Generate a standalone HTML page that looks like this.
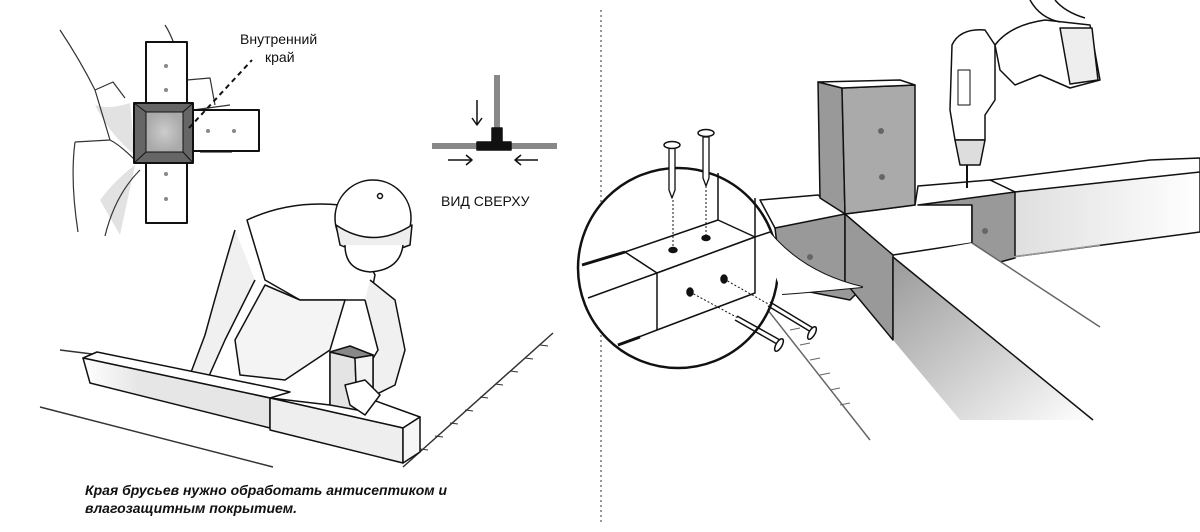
<!DOCTYPE html>
<html><head><meta charset="utf-8"><style>
html,body{margin:0;padding:0;background:#fff;width:1200px;height:532px;overflow:hidden}
svg{display:block}
text{font-family:"Liberation Sans","DejaVu Sans",sans-serif;fill:#111}
</style></head><body>
<svg width="1200" height="532" viewBox="0 0 1200 532" xmlns="http://www.w3.org/2000/svg">
<defs>
<linearGradient id="g1" x1="0" y1="0" x2="1" y2="1"><stop offset="0" stop-color="#999"/><stop offset="1" stop-color="#fff"/></linearGradient>
<linearGradient id="g2" x1="0" y1="0" x2="1" y2="0"><stop offset="0" stop-color="#ddd"/><stop offset="1" stop-color="#fff"/></linearGradient>
<linearGradient id="g3" x1="0" y1="0" x2="1" y2="0"><stop offset="0" stop-color="#fff"/><stop offset="0.3" stop-color="#e6e6e6"/></linearGradient>
<radialGradient id="g4"><stop offset="0" stop-color="#ccc"/><stop offset="1" stop-color="#aaa"/></radialGradient>
</defs>
<g stroke="#111" stroke-width="1.5" fill="none" stroke-linejoin="round">
<line x1="601" y1="10" x2="601" y2="525" stroke-dasharray="2 3" stroke="#777"/>
<path d="M95 105 Q110 135 135 155 L130 103 Q110 110 95 105 Z" fill="#e2e2e2" stroke="none"/>
<path d="M100 200 Q115 180 135 165 L120 235 Z" fill="#e2e2e2" stroke="none"/>
<g stroke="#333" stroke-width="1.2">
<path d="M60 30 Q80 60 95 90 L110 140 L75 142 M75 142 Q70 180 78 232"/>
<path d="M95 90 L113 82 L125 98 M110 140 Q120 145 135 160"/>
<path d="M140 170 Q115 195 105 236 M165 25 Q175 40 185 80"/>
<path d="M187 80 L210 78 L215 105 M193 110 L230 105"/>
<path d="M200 152 L232 152"/>
</g>
<rect x="146" y="42" width="41" height="61" fill="#fff" stroke-width="2"/>
<rect x="146" y="163" width="41" height="60" fill="#fff" stroke-width="2"/>
<rect x="193" y="110" width="66" height="41" fill="#fff" stroke-width="2"/>
<rect x="134" y="103" width="59" height="60" fill="#666" stroke-width="2"/>
<rect x="146" y="112" width="37" height="40" fill="url(#g4)" stroke-width="1"/>
<path d="M134 103 L146 112 M193 103 L183 112 M134 163 L146 152 M193 163 L183 152" stroke-width="1"/>
<g fill="#888" stroke="none">
<circle cx="166" cy="66" r="2"/><circle cx="166" cy="90" r="2"/>
<circle cx="166" cy="174" r="2"/><circle cx="166" cy="199" r="2"/>
<circle cx="208" cy="131" r="2"/><circle cx="234" cy="131" r="2"/>
</g>
<line x1="189" y1="128" x2="252" y2="60" stroke-dasharray="5 4" stroke-width="2"/>
<line x1="497" y1="75" x2="497" y2="142" stroke="#888" stroke-width="6"/>
<line x1="432" y1="146" x2="557" y2="146" stroke="#888" stroke-width="6"/>
<rect x="477" y="142" width="34" height="8" fill="#111"/>
<rect x="492" y="128" width="10" height="14" fill="#111"/>
<path d="M477 100 L477 125 M472 118 L477 125 L482 118"/>
<path d="M448 160 L472 160 M466 155 L472 160 L466 165"/>
<path d="M538 160 L515 160 M521 155 L515 160 L521 165"/>
<path d="M40 407 L273 467 M60 350 L100 355" stroke="#333"/>
<path d="M553 333 L403 467" stroke="#333"/>
<g stroke="#333" stroke-width="1">
<path d="M540 345 L548 346 M525 358 L533 359 M510 371 L518 372 M495 384 L503 385 M480 397 L488 398 M465 410 L473 411 M450 423 L458 424 M435 436 L443 437 M420 449 L428 450"/>
</g>
<path d="M247 220 Q290 200 340 205 L375 275 L370 300 L300 300 L265 280 Z" fill="#fff"/>
<path d="M235 230 Q220 280 205 335 L190 375 L205 385 L225 340 L255 280" fill="#f0f0f0"/>
<path d="M370 280 L395 300 L405 350 L395 385 L375 395 L360 380 L378 350 L365 300" fill="#f0f0f0"/>
<path d="M265 285 L300 300 L345 300 L330 350 L285 380 L240 375 L235 340 Z" fill="#f4f4f4"/>
<path d="M200 375 L185 395 L200 400 L215 385 Z" fill="#fff"/>
<circle cx="373" cy="218" r="38" fill="#fff"/>
<path d="M336 225 Q373 250 412 225 L410 245 Q373 260 340 245 Z" fill="#eee"/>
<path d="M345 245 Q345 270 370 272 Q400 270 403 245" fill="#fff"/>
<circle cx="380" cy="196" r="2.5" fill="#fff"/>
<path d="M97 352 L273 388 L290 392 L270 398 L83 358 Z" fill="#fff"/>
<path d="M83 358 L270 398 L270 428 L90 383 Z" fill="url(#g3)"/>
<path d="M270 398 L330 405 L330 352 L355 350 L373 355 L373 400 L420 417 L403 428 L270 398" fill="#fff"/>
<path d="M270 398 L403 428 L403 463 L270 430 Z" fill="#eee"/>
<path d="M403 428 L420 417 L420 452 L403 463 Z" fill="#f6f6f6"/>
<path d="M330 352 L355 358 L357 410 L330 405 Z" fill="#e4e4e4"/>
<path d="M355 358 L373 355 L373 400 L357 410 Z" fill="#f3f3f3"/>
<path d="M330 352 L350 346 L373 355 L355 358 Z" fill="#888"/>
<path d="M345 385 L365 380 L380 395 L365 415 L350 405 Z" fill="#fff"/>
<path d="M760 300 L870 440" stroke="#666"/>
<g stroke="#666" stroke-width="1">
<path d="M790 330 L800 328 M800 345 L810 343 M810 360 L820 358 M820 375 L830 373 M830 390 L840 388 M840 405 L850 403"/>
</g>
<path d="M990 180 L1150 160 L1200 158 L1200 175 L1015 192 Z" fill="#fff"/>
<path d="M1015 192 L1200 172 L1200 232 L1005 258 Z" fill="url(#g2)"/>
<path d="M760 200 L818 195 L845 214 L915 205 L918 186 L990 180 L1015 192 L972 205 L972 243 L893 255 L845 260 L775 228 Z" fill="#fff"/>
<path d="M918 205 L1015 192 L1015 258 L1000 262 L972 243 L972 205 Z" fill="#999"/>
<circle cx="985" cy="231" r="3" fill="#666" stroke="none"/>
<path d="M775 228 L845 214 L845 280 L860 290 L850 300 L800 290 L780 270 Z" fill="#999"/>
<circle cx="810" cy="257" r="3" fill="#666" stroke="none"/>
<path d="M845 214 L845 282 L893 340 L893 255 Z" fill="#999"/>
<path d="M893 257 L972 243 L1100 327 L1150 380 L1093 420 Z" fill="#fff" stroke="none"/>
<path d="M893 257 L893 340 L960 420 L1093 420 Z" fill="url(#g1)" stroke="none"/>
<line x1="893" y1="257" x2="893" y2="340"/>
<line x1="893" y1="257" x2="1093" y2="420"/>
<line x1="972" y1="243" x2="1100" y2="327" stroke="#666"/>
<line x1="1005" y1="258" x2="1100" y2="245" stroke="#999"/>
<path d="M818 82 L842 88 L845 214 L820 198 Z" fill="#999"/>
<path d="M842 88 L915 85 L915 205 L845 214 Z" fill="#aaa"/>
<path d="M818 82 L900 80 L915 85 L842 88 Z" fill="#fff"/>
<circle cx="881" cy="131" r="3" fill="#666" stroke="none"/>
<circle cx="882" cy="177" r="3" fill="#666" stroke="none"/>
<path d="M952 45 Q960 28 985 30 L995 45 L995 100 L985 115 L985 140 L955 140 L950 110 Z" fill="#fff"/>
<rect x="958" y="70" width="12" height="35" fill="none" stroke-width="1"/>
<path d="M955 140 L985 140 L980 165 L960 165 Z" fill="#ddd"/>
<line x1="967" y1="165" x2="967" y2="188" stroke-width="2"/>
<path d="M995 45 Q1010 25 1045 20 L1090 25 L1100 80 L1070 88 L1040 75 L1015 85 L1000 70 Z" fill="#fff"/>
<path d="M1060 28 L1092 28 L1098 80 L1070 84 Z" fill="#eee"/>
<path d="M1030 0 Q1040 18 1060 22 M1055 0 Q1065 12 1085 18"/>
<path d="M755 212 Q790 270 862 287 Q810 292 782 294" fill="#fff" stroke-width="2"/>
<circle cx="678" cy="268" r="100" fill="#fff" stroke-width="2.5"/>
<path d="M755 212 Q790 270 862 287 Q810 292 782 294 L770 260 Z" fill="#fff" stroke="none"/>
<path d="M625 252 L718 220 L755 237 L657 273 Z" fill="#fff"/>
<path d="M657 273 L755 237 L755 293 L657 330 Z" fill="#fff"/>
<path d="M582 265 L625 252" stroke-width="3"/>
<path d="M588 298 L657 273 M618 345 L657 330" />
<path d="M618 345 L640 337" stroke-width="3"/>
<path d="M718 173 L718 220 M755 198 L755 237 M755 237 L770 232"/>
<line x1="673" y1="200" x2="673" y2="250" stroke-dasharray="2 2" stroke-width="1"/>
<line x1="706" y1="186" x2="706" y2="238" stroke-dasharray="2 2" stroke-width="1"/>
<path d="M669 148 L669 190 L672 198 L675 190 L675 148 Z" fill="#fff" stroke-width="1.3"/>
<path d="M703 137 L703 178 L706 186 L709 178 L709 137 Z" fill="#fff" stroke-width="1.3"/>
<ellipse cx="672" cy="145" rx="8" ry="3.5" fill="#fff"/>
<ellipse cx="706" cy="133" rx="8" ry="3.5" fill="#fff"/>
<line x1="690" y1="292" x2="738" y2="318" stroke-dasharray="2 2" stroke-width="1"/>
<line x1="724" y1="279" x2="770" y2="305" stroke-dasharray="2 2" stroke-width="1"/>
<path d="M735 320 L777 344 M737 316 L780 340" stroke-width="1.5"/>
<path d="M768 306 L811 332 M770 302 L813 328" stroke-width="1.5"/>
<ellipse cx="779" cy="345" rx="3" ry="7" transform="rotate(30 779 345)" fill="#fff"/>
<ellipse cx="812" cy="333" rx="3" ry="7" transform="rotate(30 812 333)" fill="#fff"/>
<ellipse cx="690" cy="292" rx="3" ry="4" fill="#111"/><ellipse cx="724" cy="279" rx="3" ry="4" fill="#111"/>
<ellipse cx="673" cy="250" rx="4" ry="2.5" fill="#111"/><ellipse cx="706" cy="238" rx="4" ry="2.5" fill="#111"/>
</g>
<text x="240" y="44" font-size="14">Внутренний</text>
<text x="265" y="62" font-size="14">край</text>
<text x="441" y="206" font-size="14">ВИД СВЕРХУ</text>
<text x="85" y="495" font-size="14" font-style="italic" font-weight="bold">Края брусьев нужно обработать антисептиком и</text>
<text x="85" y="513" font-size="14" font-style="italic" font-weight="bold">влагозащитным покрытием.</text>
</svg>
</body></html>
